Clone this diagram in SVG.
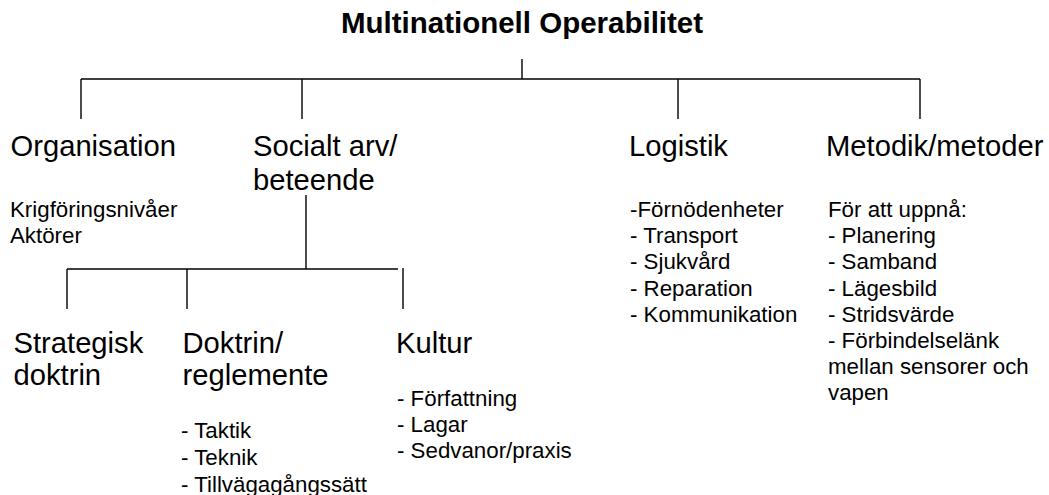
<svg xmlns="http://www.w3.org/2000/svg" width="1049" height="495" viewBox="0 0 1049 495">
<style>
text{font-family:"Liberation Sans",Arial,sans-serif;fill:#000}
.t{font-size:29.5px;font-weight:bold}
.b{font-size:29.2px}
.s{font-size:22.3px}
.c line{stroke:#000;stroke-width:1.4;fill:none}
</style>
<rect width="1049" height="495" fill="#fff"/>
<g id="connectors" class="c">
<line x1="522" y1="59" x2="522" y2="79"/>
<line x1="81" y1="79" x2="920" y2="79"/>
<line x1="81" y1="79" x2="81" y2="119"/>
<line x1="302" y1="79" x2="302" y2="119"/>
<line x1="678" y1="79" x2="678" y2="119"/>
<line x1="920" y1="79" x2="920" y2="119"/>
<line x1="306" y1="195" x2="306" y2="269"/>
<line x1="67" y1="269" x2="398" y2="269"/>
<line x1="67" y1="269" x2="67" y2="309"/>
<line x1="187" y1="269" x2="187" y2="309"/>
<line x1="403" y1="268" x2="403" y2="309"/>
</g>
<g id="root"><text class="t" x="522" y="33" text-anchor="middle">Multinationell Operabilitet</text></g>
<g id="organisation">
<text class="b" x="10.5" y="156">Organisation</text>
<text class="s" x="10" y="217">Krigföringsnivåer</text>
<text class="s" x="10" y="243">Aktörer</text>
</g>
<g id="socialt">
<text class="b" x="253" y="156">Socialt arv/</text>
<text class="b" x="253" y="190">beteende</text>
</g>
<g id="logistik">
<text class="b" x="629" y="156">Logistik</text>
<text class="s" x="630" y="217">-Förnödenheter</text>
<text class="s" x="630" y="243">- Transport</text>
<text class="s" x="630" y="269">- Sjukvård</text>
<text class="s" x="630" y="296">- Reparation</text>
<text class="s" x="630" y="322">- Kommunikation</text>
</g>
<g id="metodik">
<text class="b" x="826" y="156">Metodik/metoder</text>
<text class="s" x="828" y="217">För att uppnå:</text>
<text class="s" x="828" y="243">- Planering</text>
<text class="s" x="828" y="269">- Samband</text>
<text class="s" x="828" y="296">- Lägesbild</text>
<text class="s" x="828" y="322">- Stridsvärde</text>
<text class="s" x="828" y="348">- Förbindelselänk</text>
<text class="s" x="828" y="374">mellan sensorer och</text>
<text class="s" x="828" y="400">vapen</text>
</g>
<g id="strategisk">
<text class="b" x="13.5" y="353">Strategisk</text>
<text class="b" x="13.5" y="385">doktrin</text>
</g>
<g id="doktrin">
<text class="b" x="182.5" y="353">Doktrin/</text>
<text class="b" x="182.5" y="385">reglemente</text>
<text class="s" x="181" y="438">- Taktik</text>
<text class="s" x="181" y="465">- Teknik</text>
<text class="s" x="181" y="492">- Tillvägagångssätt</text>
</g>
<g id="kultur">
<text class="b" x="396" y="353">Kultur</text>
<text class="s" x="397" y="406">- Författning</text>
<text class="s" x="397" y="432">- Lagar</text>
<text class="s" x="397" y="458">- Sedvanor/praxis</text>
</g>
</svg>
